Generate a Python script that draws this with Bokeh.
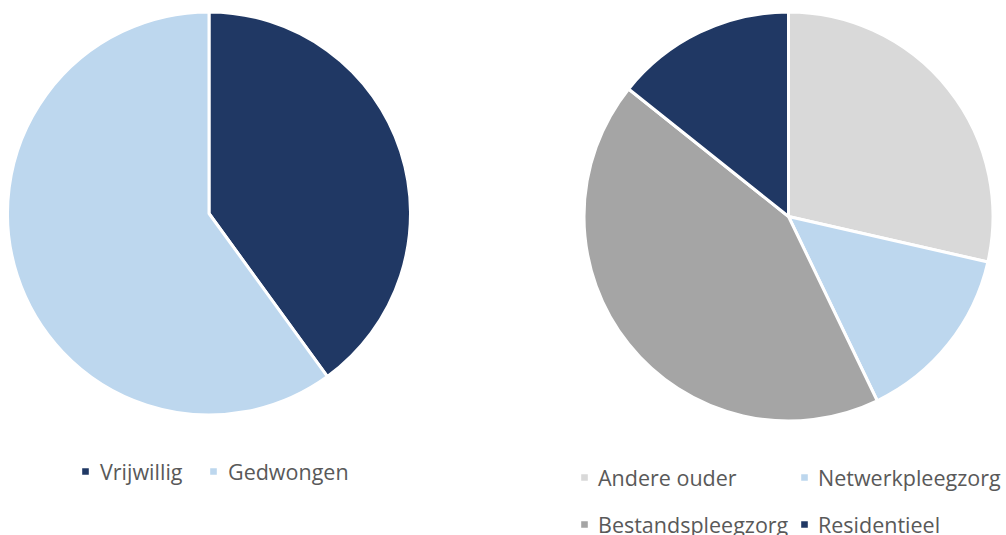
import math
from bokeh.plotting import figure
from bokeh.models import Range1d, Legend, LegendItem, ColumnDataSource
from bokeh.embed import file_html
from bokeh.resources import INLINE

# ---- data ----
left_labels = ["Vrijwillig", "Gedwongen"]
left_values = [2, 3]
left_colors = ["#203864", "#BDD7EE"]

right_labels = ["Andere ouder", "Netwerkpleegzorg", "Bestandspleegzorg", "Residentieel"]
right_values = [2, 1, 3, 1]
right_colors = ["#D9D9D9", "#BDD7EE", "#A5A5A5", "#203864"]

W, H = 1006, 535
TEXT = "#595959"
FONT = "Open Sans"

p = figure(width=W, height=H, output_backend="svg", toolbar_location=None,
           x_range=Range1d(0, W), y_range=Range1d(0, H), min_border=0,
           outline_line_color=None, background_fill_color="white")
p.axis.visible = False
p.grid.visible = False


def pie(labels, values, colors, cx, cy, r):
    total = float(sum(values))
    starts, ends = [], []
    cum = 0.0
    for v in values:
        starts.append(math.pi / 2 - 2 * math.pi * cum / total)
        cum += v
        ends.append(math.pi / 2 - 2 * math.pi * cum / total)
    renderers = []
    for lab, s, e, c in zip(labels, starts, ends, colors):
        src = ColumnDataSource(dict(x=[cx], y=[cy], s=[s], e=[e]))
        rr = p.wedge(x="x", y="y", radius=r, start_angle="s", end_angle="e",
                     direction="clock", fill_color=c, line_color="white",
                     line_width=3, source=src)
        renderers.append(rr)
    return renderers


lr = pie(left_labels, left_values, left_colors, 208.5, 322, 201.5)
rr = pie(right_labels, right_values, right_colors, 788, 319, 204.5)


def add_legend(items, x, y, standoff, spacing=0):
    leg = Legend(items=items, location=(x, y), orientation="vertical",
                 glyph_width=12, glyph_height=12, label_standoff=standoff,
                 label_text_font=FONT, label_text_font_size="21.5px",
                 label_text_color=TEXT, label_height=30,
                 padding=0, margin=0, spacing=spacing,
                 border_line_color=None, background_fill_alpha=0)
    p.add_layout(leg, "center")


add_legend([LegendItem(label=left_labels[0], renderers=[lr[0]])], 79, 49, 9)
add_legend([LegendItem(label=left_labels[1], renderers=[lr[1]])], 207, 49, 9)
add_legend([LegendItem(label=right_labels[0], renderers=[rr[0]]),
            LegendItem(label=right_labels[2], renderers=[rr[2]])], 578, -4, 8, spacing=17)
add_legend([LegendItem(label=right_labels[1], renderers=[rr[1]]),
            LegendItem(label=right_labels[3], renderers=[rr[3]])], 798, -4, 8, spacing=17)

open("out.html", "w").write(file_html(p, INLINE))
